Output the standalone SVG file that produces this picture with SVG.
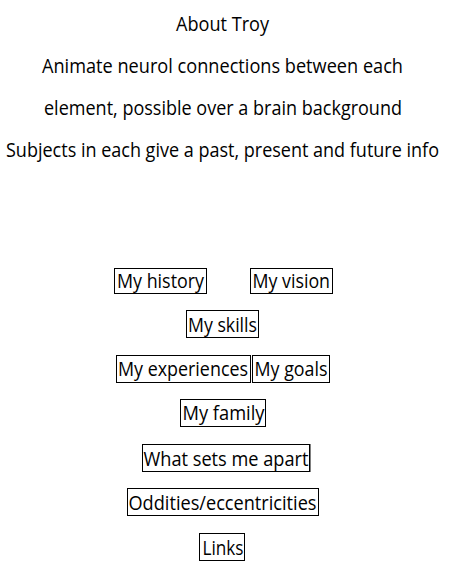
<svg xmlns="http://www.w3.org/2000/svg" width="455" height="579" viewBox="0 0 455 579">
<style>
text{font-family:"Open Sans","Noto Sans","Liberation Sans",sans-serif;font-size:19.5px;fill:#000;}
.box{fill:#fff;stroke:#000;stroke-width:1;}
</style>
<rect width="455" height="579" fill="#fff"/>
<g id="notes">
<text x="176" y="31" textLength="93" lengthAdjust="spacingAndGlyphs">About Troy</text>
<text x="42" y="73" textLength="361" lengthAdjust="spacingAndGlyphs">Animate neurol connections between each</text>
<text x="44" y="115" textLength="358" lengthAdjust="spacingAndGlyphs">element, possible over a brain background</text>
<text x="6" y="157" textLength="433" lengthAdjust="spacingAndGlyphs">Subjects in each give a past, present and future info</text>
</g>
<g id="connectors"></g>
<g id="history"><rect class="box" x="114.5" y="268.5" width="92" height="25"/><text x="117" y="288" textLength="87" lengthAdjust="spacingAndGlyphs">My history</text></g>
<g id="vision"><rect class="box" x="250.5" y="268.5" width="82" height="25"/><text x="252.5" y="288" textLength="77.5" lengthAdjust="spacingAndGlyphs">My vision</text></g>
<g id="skills"><rect class="box" x="186.5" y="310.5" width="72" height="27"/><text x="188" y="332" textLength="69" lengthAdjust="spacingAndGlyphs">My skills</text></g>
<g id="experiences"><rect class="box" x="116.5" y="355.5" width="134" height="27"/><text x="118" y="376" textLength="130" lengthAdjust="spacingAndGlyphs">My experiences</text></g>
<g id="goals"><rect class="box" x="252.5" y="355.5" width="77" height="27"/><text x="254.5" y="376" textLength="73" lengthAdjust="spacingAndGlyphs">My goals</text></g>
<g id="family"><rect class="box" x="180.5" y="399.5" width="85" height="27"/><text x="182.5" y="420" textLength="82" lengthAdjust="spacingAndGlyphs">My family</text></g>
<g id="apart"><rect class="box" x="142.5" y="444.5" width="167" height="27"/><line x1="310" y1="444" x2="310" y2="472" stroke="#000" stroke-width="1"/><text x="143.5" y="466" textLength="165" lengthAdjust="spacingAndGlyphs">What sets me apart</text></g>
<g id="oddities"><rect class="box" x="127.5" y="488.5" width="191" height="27"/><text x="128.5" y="510" textLength="188" lengthAdjust="spacingAndGlyphs">Oddities/eccentricities</text></g>
<g id="links"><rect class="box" x="199.5" y="533.5" width="45" height="27"/><text x="202.5" y="555" textLength="41" lengthAdjust="spacingAndGlyphs">Links</text></g>
</svg>
